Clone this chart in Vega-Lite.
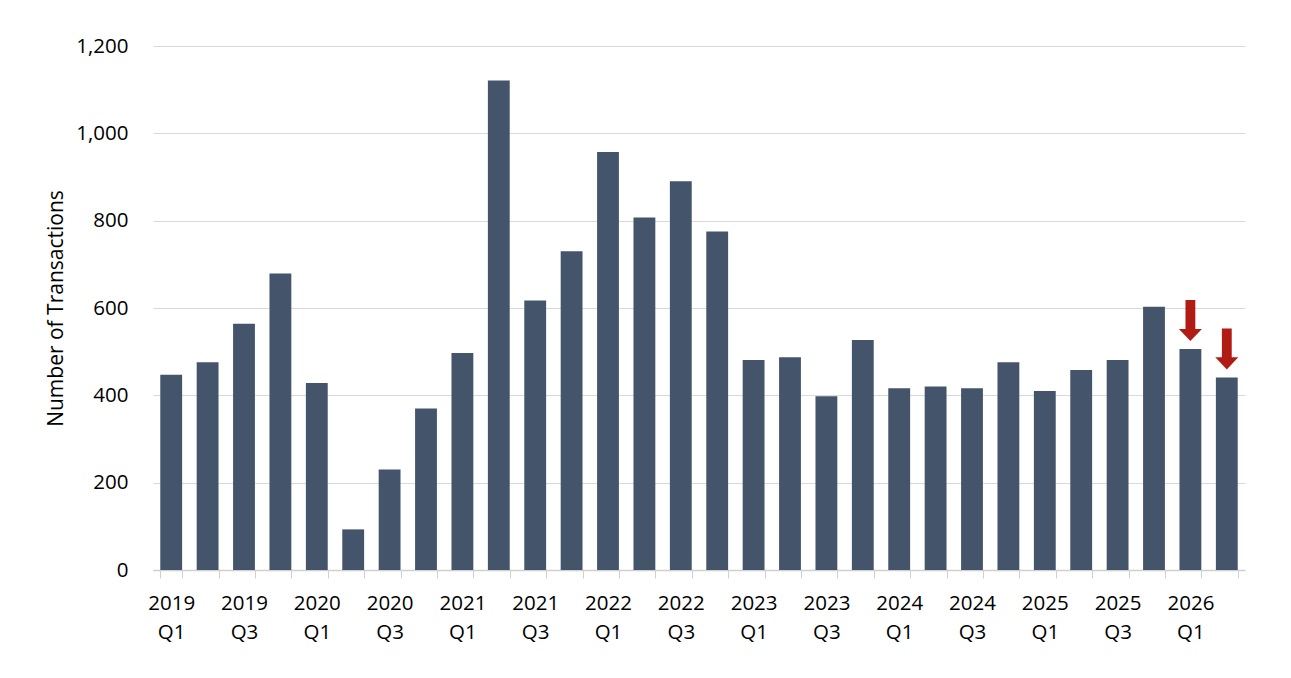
{
  "$schema": "https://vega.github.io/schema/vega-lite/v6.json",
  "autosize": {"type": "none"},
  "width": 1092,
  "height": 524,
  "padding": {"left": 153, "top": 46, "right": 46, "bottom": 108},
  "background": "white",
  "config": {
    "font": "Open Sans",
    "view": {"stroke": null},
    "axis": {"labelFont": "Open Sans", "titleFont": "Open Sans", "labelColor": "#000000", "titleColor": "#000000", "titleFontWeight": "normal"}
  },
  "data": {
    "values": [
      {"Quarter": "2019 Q1", "Transactions": 447},
      {"Quarter": "2019 Q2", "Transactions": 476},
      {"Quarter": "2019 Q3", "Transactions": 564},
      {"Quarter": "2019 Q4", "Transactions": 679},
      {"Quarter": "2020 Q1", "Transactions": 428},
      {"Quarter": "2020 Q2", "Transactions": 93},
      {"Quarter": "2020 Q3", "Transactions": 230},
      {"Quarter": "2020 Q4", "Transactions": 370},
      {"Quarter": "2021 Q1", "Transactions": 497},
      {"Quarter": "2021 Q2", "Transactions": 1121},
      {"Quarter": "2021 Q3", "Transactions": 617},
      {"Quarter": "2021 Q4", "Transactions": 730},
      {"Quarter": "2022 Q1", "Transactions": 957},
      {"Quarter": "2022 Q2", "Transactions": 807},
      {"Quarter": "2022 Q3", "Transactions": 890},
      {"Quarter": "2022 Q4", "Transactions": 775},
      {"Quarter": "2023 Q1", "Transactions": 481},
      {"Quarter": "2023 Q2", "Transactions": 487},
      {"Quarter": "2023 Q3", "Transactions": 398},
      {"Quarter": "2023 Q4", "Transactions": 527},
      {"Quarter": "2024 Q1", "Transactions": 416},
      {"Quarter": "2024 Q2", "Transactions": 420},
      {"Quarter": "2024 Q3", "Transactions": 416},
      {"Quarter": "2024 Q4", "Transactions": 476},
      {"Quarter": "2025 Q1", "Transactions": 410},
      {"Quarter": "2025 Q2", "Transactions": 458},
      {"Quarter": "2025 Q3", "Transactions": 481},
      {"Quarter": "2025 Q4", "Transactions": 603},
      {"Quarter": "2026 Q1", "Transactions": 506, "Trend": "down"},
      {"Quarter": "2026 Q2", "Transactions": 441, "Trend": "down"}
    ]
  },
  "encoding": {
    "x": {
      "field": "Quarter",
      "type": "ordinal",
      "sort": null,
      "scale": {"paddingInner": 0.4, "paddingOuter": 0.2},
      "axis": {
        "title": null,
        "labelAngle": 0,
        "labelFontSize": 20.5,
        "labelLineHeight": 29,
        "labelPadding": 15,
        "labelExpr": "test(/Q[13]/, datum.value) ? split(datum.value, ' ') : ''",
        "tickBand": "extent",
        "tickSize": 8,
        "tickColor": "#d0d0d0",
        "domainColor": "#d0d0d0",
        "domainWidth": 1.5
      }
    },
    "y": {
      "field": "Transactions",
      "type": "quantitative",
      "scale": {"domain": [0, 1200]},
      "axis": {
        "title": "Number of Transactions",
        "titleFontSize": 21,
        "titleX": -97,
        "titleY": 262,
        "titleAlign": "center",
        "titleBaseline": "middle",
        "values": [0, 200, 400, 600, 800, 1000, 1200],
        "format": ",d",
        "labelFontSize": 20.5,
        "labelPadding": 25,
        "ticks": false,
        "tickSize": 0,
        "domain": false,
        "gridColor": "#d9d9d9",
        "gridWidth": 1.2
      }
    }
  },
  "layer": [
    {
      "mark": {"type": "bar", "color": "#44546A"}
    },
    {
      "transform": [{"filter": "datum.Trend === 'down'"}],
      "mark": {
        "type": "point",
        "filled": true,
        "color": "#B01C14",
        "opacity": 1,
        "size": 1681,
        "yOffset": -28.5,
        "shape": "M-0.24,-1L0.24,-1L0.24,0.41L0.56,0.41L0,1L-0.56,0.41L-0.24,0.41Z"
      }
    }
  ]
}
